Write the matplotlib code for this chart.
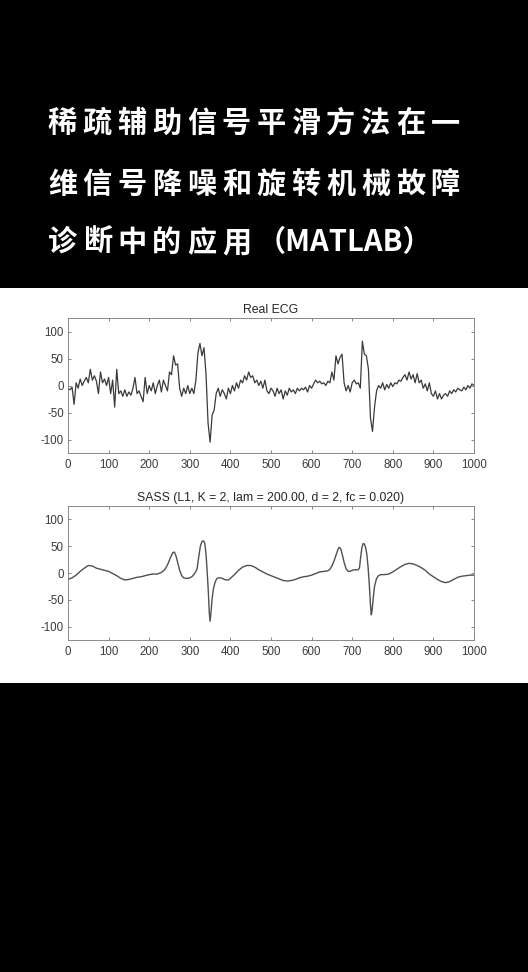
import matplotlib
matplotlib.use("Agg")
import matplotlib.pyplot as plt
import numpy as np

plt.rcParams["axes.unicode_minus"] = False

# title lines (white on black)
title_lines = ["稀疏辅助信号平滑方法在一", "维信号降噪和旋转机械故障", "诊断中的应用"]
title_tail = "（MATLAB）"

# raw ECG, read every 5 samples
ecg_step = 5
ecg_raw = [
    -5, -8, -3, -35, 5, -5, 12, 0, 8, 15,
    5, 30, 10, 18, 8, -15, 25, 5, 12, 0,
    15, -15, 10, -40, 30, -15, -10, -20, -8, -20,
    -12, -18, -5, 15, -15, -10, -20, -30, 15, -15,
    0, -10, 5, -15, 0, 10, -12, 10, 0, -10,
    25, 20, 55, 38, 40, -5, -20, -5, -15, 0,
    -15, -5, -15, 10, 60, 78, 55, 70, 20, -70,
    -105, -55, -45, -15, -5, -20, -8, -15, -25, -5,
    -15, 0, -10, 5, -5, 10, 5, 18, 10, 25,
    15, 18, 5, 10, 0, 8, -5, 10, -10, -15,
    -5, -10, -20, -5, -15, -8, -25, -10, -18, -5,
    -12, -8, -15, -5, -10, -5, -8, -3, -12, 0,
    -5, 3, 10, 5, 8, 3, 5, 0, 8, 5,
    25, 10, 55, 40, 52, 58, 5, -10, 0, -12,
    5, 10, 3, 5, -5, 82, 58, 55, 30, -60,
    -85, -40, -10, 0, -5, 5, -8, 2, -5, 5,
    -2, 5, 3, 10, 8, 15, 20, 10, 25, 12,
    20, 5, 22, 5, 10, -5, 3, -10, 5, -15,
    -20, -10, -25, -15, -25, -18, -15, -20, -10, -15,
    -8, -12, -5, -8, -10, -3, -8, 0, -5, 3,
    0,
]

# SASS output
sass_pos = [
    0, 10, 20, 30, 40, 50, 60, 70, 80, 90,
    100, 110, 120, 130, 140, 150, 160, 170, 180, 190,
    200, 210, 220, 230, 238, 245, 252, 258, 262, 266,
    270, 275, 280, 285, 290, 295, 300, 305, 310, 315,
    318, 322, 326, 330, 334, 337, 340, 343, 346, 348,
    350, 352, 355, 358, 362, 366, 370, 375, 380, 385,
    390, 395, 400, 410, 420, 430, 440, 450, 460, 470,
    480, 490, 500, 510, 520, 530, 540, 550, 560, 570,
    580, 590, 600, 610, 620, 630, 640, 645, 650, 655,
    660, 665, 668, 672, 676, 680, 685, 690, 695, 700,
    705, 710, 715, 718, 721, 724, 727, 730, 733, 736,
    739, 742, 745, 747, 749, 752, 755, 760, 765, 770,
    780, 790, 800, 810, 820, 830, 840, 850, 860, 870,
    880, 890, 900, 910, 920, 930, 940, 950, 960, 970,
    980, 990, 1000,
]
sass_val = [
    -12, -9, -4, 3, 9, 14, 13, 9, 7, 5,
    3, -1, -5, -10, -13, -12, -10, -8, -7, -5,
    -3, -2, -2, 1, 6, 15, 28, 38, 39, 32,
    20, 5, -5, -9, -10, -10, -9, -7, -3, 3,
    8, 30, 50, 59, 60, 55, 35, 0, -40, -75,
    -90, -75, -48, -30, -18, -11, -9, -9, -10, -12,
    -13, -13, -10, -3, 5, 11, 14, 14, 11, 6,
    2, -2, -5, -8, -11, -14, -15, -14, -12, -9,
    -7, -6, -4, -1, 2, 3, 4, 7, 13, 22,
    33, 44, 48, 45, 33, 20, 8, 3, 3, 5,
    6, 6, 6, 10, 30, 48, 55, 54, 48, 35,
    12, -20, -60, -78, -70, -45, -25, -10, -5, -3,
    -3, -2, 2, 7, 12, 16, 18, 17, 14, 10,
    5, -2, -7, -12, -16, -18, -16, -12, -8, -6,
    -5, -4, -4,
]

x_ticks = list(range(0, 1001, 100))
y_ticks = [-100, -50, 0, 50, 100]

W, H = 528, 972
fig = plt.figure(figsize=(W / 100, H / 100), dpi=100, facecolor="black")

# white panel behind the plots
panel = fig.add_axes([0, 1 - 683 / H, 1, (683 - 288) / H])
panel.set_facecolor("white")
panel.set_xticks([])
panel.set_yticks([])
for s in panel.spines.values():
    s.set_visible(False)

# title text, one glyph at a time so the spacing matches
cjk = ["Noto Sans CJK SC", "DejaVu Sans"]
adv = 34.8
for line, yc in zip(title_lines, [123, 184, 242]):
    for i, ch in enumerate(line):
        fig.text((48 + i * adv + 14.5) / W, 1 - yc / H, ch, color="white",
                 fontsize=21, fontweight="black", family=cjk,
                 ha="center", va="center")
fig.text((48 + 6 * adv) / W, 1 - 242 / H, title_tail, color="white",
         fontsize=21, fontweight="black", family=cjk, ha="left", va="center")

tick_font = "Liberation Sans"


def style(ax, title):
    ax.set_xlim(0, 1000)
    ax.set_ylim(-125, 125)
    ax.set_xticks(x_ticks)
    ax.set_yticks(y_ticks)
    ax.tick_params(direction="in", length=2.5, width=0.6, color="#707070",
                   top=True, right=True, labelsize=8.3, labelcolor="#3a3a3a")
    ax.tick_params(axis="x", pad=4.5)
    ax.tick_params(axis="y", pad=3)
    for lab in ax.get_xticklabels() + ax.get_yticklabels():
        lab.set_family(tick_font)
    for s in ax.spines.values():
        s.set_color("#8a8a8a")
        s.set_linewidth(0.7)
    ax.set_title(title, fontsize=8.8, color="#262626", family=tick_font, pad=3.5)


ax1 = fig.add_axes([68 / W, 1 - 453 / H, 406 / W, 135 / H])
t = np.arange(len(ecg_raw)) * ecg_step
ax1.plot(t, ecg_raw, color="#3a3a3a", lw=0.9)
style(ax1, "Real ECG")

ax2 = fig.add_axes([68 / W, 1 - 640 / H, 406 / W, 134 / H])
ax2.plot(sass_pos, sass_val, color="#505050", lw=1.0)
style(ax2, "SASS (L1, K = 2, lam = 200.00, d = 2, fc = 0.020)")

fig.savefig("out.png", dpi=100, facecolor="black")
